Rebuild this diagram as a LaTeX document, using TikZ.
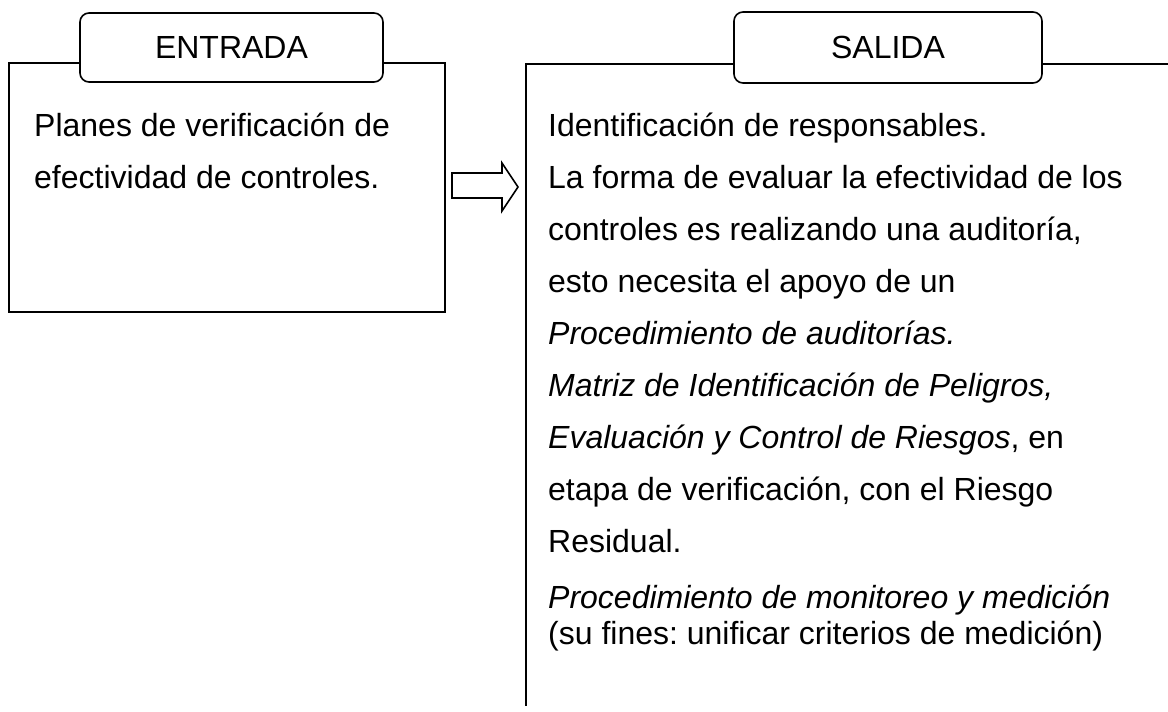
\documentclass[tikz,border=0pt]{standalone}
\usepackage{fontspec}
\setmainfont{Liberation Sans}
\frenchspacing
\begin{document}
\tikzset{
  ln/.style={line width=1.6pt, line join=miter},
  tab/.style={draw, line width=1.6pt, rounded corners=9pt, fill=white,
    inner sep=0pt, font=\fontsize{32}{38}\selectfont},
  txt/.style={anchor=base west, inner sep=0pt, font=\fontsize{32}{38}\selectfont},
}
\begin{tikzpicture}[x=1pt,y=-1pt]
\useasboundingbox (0,0) rectangle (1168,712);
% left box
\coordinate (lbTL) at (9,63);
\coordinate (lbBR) at (445,312);
\draw[ln] (lbTL) rectangle (lbBR);
\node[tab, minimum width=303pt, minimum height=69pt] (entrada) at (231.5,47.5) {ENTRADA};
% right box (open)
\coordinate (rbR) at (1168,64);
\coordinate (rbTL) at (526,64);
\coordinate (rbB) at (526,706);
\draw[ln] (rbR) -- (rbTL) -- (rbB);
\node[tab, minimum width=308pt, minimum height=71pt] (salida) at (888,47.5) {SALIDA};
% block arrow
\draw[ln, fill=white] (452,173) -- (502,173) -- (502,163) -- (518,187)
  -- (502,211) -- (502,198) -- (452,198) -- cycle;
% left text
\node[txt] (l1) at (34,136) {Planes de verificación de};
\node[txt] (l2) at (34,188) {efectividad de controles.};
% right text
\node[txt] (r1) at (548,136) {Identificación de responsables.};
\node[txt] (r2) at (548,188) {La forma de evaluar la efectividad de los};
\node[txt] (r3) at (548,240) {controles es realizando una auditoría,};
\node[txt] (r4) at (548,292) {esto necesita el apoyo de un};
\node[txt] (r5) at (548,344) {\textit{Procedimiento de auditorías.}};
\node[txt] (r6) at (548,396) {\textit{Matriz de Identificación de Peligros,}};
\node[txt] (r7) at (548,448) {\textit{Evaluación y Control de Riesgos}, en};
\node[txt] (r8) at (548,500) {etapa de verificación, con el Riesgo};
\node[txt] (r9) at (548,552) {Residual.};
\node[txt] (r10) at (548,608) {\textit{Procedimiento de monitoreo y medición}};
\node[txt] (r11) at (548,644) {(su fines: unificar criterios de medición)};
\end{tikzpicture}
\end{document}
